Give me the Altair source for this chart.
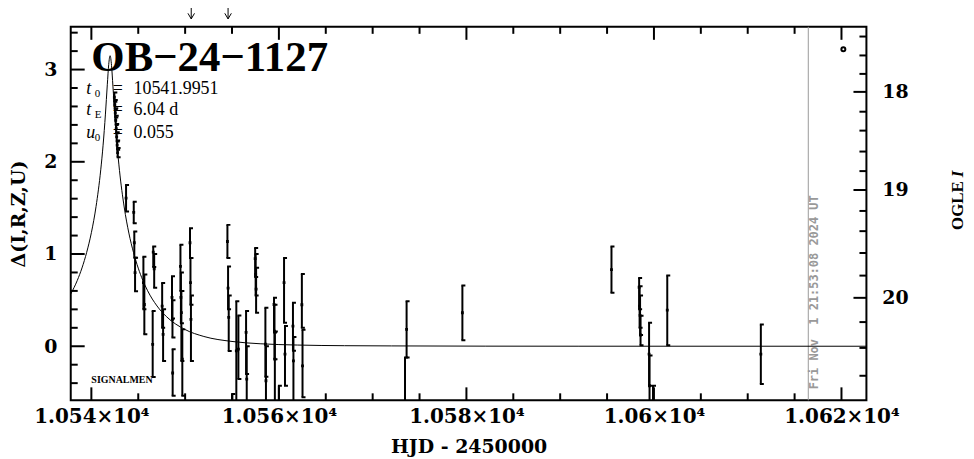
import altair as alt
import pandas as pd

# ---------------- data ----------------
event_name = "OB\u221224\u22121127"
param_syms = ["t", "t", "u"]
param_subs = ["0", "E", "0"]
param_vals = ["10541.9951", "6.04 d", "0.055"]
stamp_text = "Fri Nov \u00a01 21:53:08 2024 UT"
credit_text = "SIGNALMEN"

# observations (HJD-2450000, value, lower, upper)
obs_t = [10542.45, 10542.50, 10542.55, 10542.60, 10542.65, 10542.70, 10542.75, 10542.80,
         10543.70, 10544.52, 10544.58, 10544.66, 10545.55, 10545.65, 10546.60, 10546.70,
         10546.54, 10547.55, 10547.65, 10548.60, 10548.65, 10548.67, 10549.50, 10549.55,
         10549.60, 10549.70, 10550.52, 10550.57, 10550.62, 10554.51, 10554.58, 10554.65,
         10555.04, 10555.46, 10555.68, 10556.50, 10556.57, 10557.47, 10557.52, 10557.57,
         10558.56, 10558.62, 10559.48, 10559.53, 10559.57, 10560.00, 10560.55, 10560.65,
         10561.50, 10561.55, 10562.45, 10562.52, 10573.45, 10573.62, 10579.57, 10595.47,
         10598.42, 10598.47, 10598.52, 10598.57, 10599.48, 10599.53, 10599.90, 10601.42,
         10611.40]
obs_val = [2.70, 2.62, 2.53, 2.45, 2.36, 2.27, 2.18, 2.10,
           1.607, 1.451, 1.122, 0.798, 0.690, 0.453, 1.020, 0.840,
           0.020, 0.435, 0.129, 0.529, 0.291, -0.290, 0.866, 0.529,
           0.364, -0.140, 1.122, 0.690, 0.291, 1.136, 0.630, 0.313,
           -0.900, -0.050, -0.032, 0.151, -0.356, 0.950, 0.780, 0.620,
           0.022, -0.374, 0.453, 0.165, -0.140, -0.900, 0.690, -0.086,
           0.219, -0.159, 0.450, -0.213, -0.620, 0.183, 0.363, 0.830,
           0.640, 0.435, 0.334, 0.122, -0.086, -0.428, -0.900, 0.392,
           -0.086]
obs_lo = [2.65, 2.57, 2.48, 2.40, 2.31, 2.22, 2.13, 2.05,
          1.460, 1.334, 0.960, 0.597, 0.400, 0.129, 0.860, 0.633,
          -0.334, 0.200, -0.159, 0.300, 0.094, -0.536, 0.600, 0.250,
          -0.159, -0.536, 0.957, 0.450, -0.159, 0.957, 0.400, -0.051,
          -1.300, -0.650, -0.356, -0.300, -0.700, 0.750, 0.550, 0.364,
          -0.330, -0.650, 0.150, -0.140, -0.620, -1.300, 0.256, -0.428,
          -0.050, -0.620, 0.200, -0.553, -1.100, -0.122, 0.065, 0.579,
          0.400, 0.200, 0.122, 0.011, -0.428, -0.750, -1.300, 0.011,
          -0.410]
obs_hi = [2.75, 2.67, 2.58, 2.50, 2.41, 2.32, 2.23, 2.15,
          1.748, 1.567, 1.244, 0.960, 0.971, 0.777, 1.082, 1.000,
          0.381, 0.687, 0.400, 0.758, 0.500, -0.032, 1.100, 0.800,
          0.600, 0.183, 1.280, 0.957, 0.550, 1.316, 0.866, 0.550,
          -0.518, 0.489, 0.334, 0.381, 0.000, 1.065, 1.000, 0.850,
          0.417, 0.000, 0.525, 0.450, 0.160, -0.428, 0.957, 0.219,
          0.471, 0.100, 0.784, 0.180, -0.122, 0.489, 0.658, 1.082,
          0.741, 0.650, 0.550, 0.330, 0.256, -0.100, -0.428, 0.766,
          0.237]

# model curve
curve_t = [10537.80, 10538.5, 10539.0, 10539.5, 10540.0, 10540.5, 10541.0, 10541.25,
           10541.5, 10541.7, 10541.85, 10542.0, 10542.15, 10542.3, 10542.5, 10542.75,
           10543.0, 10543.5, 10544.0, 10544.5, 10545.0, 10545.5, 10546.0, 10547.0,
           10548.0, 10550.0, 10552.0, 10555.0, 10558.0, 10562.0, 10567.0, 10572.0,
           10582.0, 10592.0, 10622.66]
curve_d = [0.566, 0.714, 0.849, 1.018, 1.231, 1.515, 1.913, 2.18,
           2.517, 2.835, 3.055, 3.150, 3.045, 2.82, 2.505, 2.17,
           1.905, 1.51, 1.227, 1.015, 0.847, 0.712, 0.602, 0.437,
           0.322, 0.181, 0.106, 0.052, 0.027, 0.013, 0.006, 0.0036,
           0.0011, 0.0005, 0.0001]

latest_t = [10620.2]
latest_v = [3.22]
arrow_t = [10550.65, 10554.58]
stamp_t = [10616.46]

# axes ticks
x_major = [10540, 10560, 10580, 10600, 10620]
x_minor = [10545, 10550, 10555, 10565, 10570, 10575, 10585, 10590, 10595, 10605, 10610, 10615]
y_major = [0, 1, 2, 3]
y_minor = [-0.4, -0.2, 0.2, 0.4, 0.6, 0.8, 1.2, 1.4, 1.6, 1.8, 2.2, 2.4, 2.6, 2.8, 3.2, 3.4]
mag_major_labels = ["18", "19", "20"]
mag_major_pos = [2.758, 1.694, 0.525]
mag_minor_pos = [3.358, 3.153, 2.953, 2.543, 2.338, 2.111, 1.899, 1.467, 1.248,
                 1.011, 0.766, 0.262, -0.018, -0.320]

# ---------------- chart ----------------
W, H = 799, 375
xs = alt.Scale(domain=[10537.80, 10622.66], nice=False, zero=False)
ys = alt.Scale(domain=[-0.586, 3.463], nice=False, zero=False)
SERIF = "DejaVu Serif"
LSERIF = "Liberation Serif"

x_axis = alt.Axis(values=x_major, ticks=False, tickSize=0, domain=False, grid=False,
                  labelExpr="format(datum.value / 10000, '.4~f') + '\u00d710\u2074'",
                  labelFlush=False, labelOverlap=False, labelFont=SERIF, labelFontSize=20,
                  labelFontWeight="bold", labelColor="black", labelPadding=6,
                  title="HJD - 2450000", titleFont=SERIF, titleFontSize=19,
                  titleFontWeight="bold", titleColor="black", titlePadding=11)
y_axis = alt.Axis(values=y_major, format="d", ticks=False, tickSize=0, domain=False, grid=False,
                  labelFont=SERIF, labelFontSize=19, labelFontWeight="bold", labelColor="black",
                  labelPadding=14, title="\u0394(I,R,Z,U)", titleFont=SERIF, titleFontSize=19,
                  titleFontWeight="bold", titleColor="black", titlePadding=15)


def X(f):
    return alt.X(f, type="quantitative", scale=xs, axis=x_axis)


def Y(f):
    return alt.Y(f, type="quantitative", scale=ys, axis=y_axis)


obs = pd.DataFrame({"t": obs_t, "v": obs_val, "lo": obs_lo, "hi": obs_hi})
curve = pd.DataFrame({"t": curve_t, "d": curve_d})

layers = []
layers.append(alt.Chart(pd.DataFrame({"t": stamp_t})).mark_rule(color="#999999", strokeWidth=1)
              .encode(x=X("t")))
layers.append(alt.Chart(pd.DataFrame({"t": stamp_t, "s": [stamp_text]}))
              .mark_text(angle=270, align="left", baseline="middle", font="DejaVu Sans Mono",
                         fontSize=12, fontWeight="bold", color="#999999", xOffset=6)
              .encode(x=X("t"), y=alt.value(364), text="s:N"))
layers.append(alt.Chart(curve).mark_line(color="black", strokeWidth=1, interpolate="monotone", clip=True)
              .encode(x=X("t"), y=Y("d")))
layers.append(alt.Chart(obs).mark_rule(color="black", strokeWidth=2, clip=True)
              .encode(x=X("t"), y=Y("lo"), y2=alt.Y2("hi")))
for f in ["lo", "hi"]:
    layers.append(alt.Chart(obs).mark_tick(orient="horizontal", size=4, thickness=2, color="black",
                                           opacity=1, clip=True, xOffset=1)
                  .encode(x=X("t"), y=Y(f)))
layers.append(alt.Chart(obs).mark_square(size=8, color="black", opacity=1, clip=True)
              .encode(x=X("t"), y=Y("v")))
layers.append(alt.Chart(pd.DataFrame({"t": latest_t, "v": latest_v}))
              .mark_point(shape="circle", size=16, filled=False, color="black", strokeWidth=2, opacity=1)
              .encode(x=X("t"), y=Y("v")))

# arrows above the frame
arrows = pd.DataFrame({"t": arrow_t})
layers.append(alt.Chart(arrows).mark_rule(color="black", strokeWidth=1)
              .encode(x=X("t"), y=alt.value(-20), y2=alt.value(-8)))
layers.append(alt.Chart(arrows).mark_point(shape="M-0.59,-1L0,0L0.59,-1", size=125, filled=False,
                                           color="black", strokeWidth=1, opacity=1)
              .encode(x=X("t"), y=alt.value(-8)))

# inward ticks
for vals, ln in [(x_major, 13), (x_minor, 7)]:
    d = pd.DataFrame({"t": vals})
    layers.append(alt.Chart(d).mark_rule(color="black", strokeWidth=2)
                  .encode(x=X("t"), y=alt.value(H), y2=alt.value(H - ln)))
    layers.append(alt.Chart(d).mark_rule(color="black", strokeWidth=2)
                  .encode(x=X("t"), y=alt.value(0), y2=alt.value(ln)))
for vals, ln in [(y_major, 14), (y_minor, 7)]:
    d = pd.DataFrame({"v": vals})
    layers.append(alt.Chart(d).mark_rule(color="black", strokeWidth=2)
                  .encode(y=Y("v"), x=alt.value(0), x2=alt.value(ln)))
for vals, ln in [(mag_major_pos, 13), (mag_minor_pos, 7)]:
    d = pd.DataFrame({"v": vals})
    layers.append(alt.Chart(d).mark_rule(color="black", strokeWidth=2)
                  .encode(y=Y("v"), x=alt.value(W), x2=alt.value(W - ln)))

# right axis labels and title
layers.append(alt.Chart(pd.DataFrame({"v": mag_major_pos, "lab": mag_major_labels}))
              .mark_text(align="left", baseline="middle", font=SERIF, fontSize=19,
                         fontWeight="bold", color="black")
              .encode(y=Y("v"), x=alt.value(W + 16), text="lab:N"))
layers.append(alt.Chart(pd.DataFrame({"s": ["OGLE"]}))
              .mark_text(angle=270, align="left", baseline="middle", font=LSERIF, fontSize=17,
                         fontWeight="bold", color="black")
              .encode(x=alt.value(891), y=alt.value(204), text="s:N"))
layers.append(alt.Chart(pd.DataFrame({"s": ["I"]}))
              .mark_text(angle=270, align="left", baseline="middle", font=LSERIF, fontSize=17,
                         fontWeight="bold", fontStyle="italic", color="black")
              .encode(x=alt.value(891), y=alt.value(151), text="s:N"))

# annotations
layers.append(alt.Chart(pd.DataFrame({"s": [event_name]}))
              .mark_text(align="left", baseline="alphabetic", font=LSERIF, fontSize=43,
                         fontWeight="bold", color="black")
              .encode(x=alt.value(20.7), y=alt.value(44), text="s:N"))
line_y = [62, 84, 107]
for i in range(3):
    yy = line_y[i]
    layers.append(alt.Chart(pd.DataFrame({"s": [param_syms[i]]}))
                  .mark_text(align="left", baseline="middle", font=LSERIF, fontSize=18,
                             fontStyle="italic", color="black")
                  .encode(x=alt.value(15.7), y=alt.value(yy), text="s:N"))
    layers.append(alt.Chart(pd.DataFrame({"s": [param_subs[i]]}))
                  .mark_text(align="left", baseline="middle", font=LSERIF, fontSize=11,
                             color="black")
                  .encode(x=alt.value(24), y=alt.value(yy + 5), text="s:N"))
    layers.append(alt.Chart(pd.DataFrame({"s": ["="]}))
                  .mark_text(align="left", baseline="middle", font=LSERIF, fontSize=18,
                             color="black")
                  .encode(x=alt.value(42.3), y=alt.value(yy), text="s:N"))
    layers.append(alt.Chart(pd.DataFrame({"s": [param_vals[i]]}))
                  .mark_text(align="left", baseline="middle", font=LSERIF, fontSize=18,
                             color="black")
                  .encode(x=alt.value(63), y=alt.value(yy), text="s:N"))
layers.append(alt.Chart(pd.DataFrame({"s": [credit_text]}))
              .mark_text(align="left", baseline="middle", font=LSERIF, fontSize=10,
                         fontWeight="bold", color="black")
              .encode(x=alt.value(20.7), y=alt.value(355), text="s:N"))

chart = (alt.layer(*layers)
         .properties(width=W, height=H,
                     padding={"left": 63, "top": 18, "right": 100, "bottom": 56},
                     autosize=alt.AutoSizeParams(type="none"), background="white")
         .configure_view(stroke="black", strokeWidth=2))

chart.save("out.html", embed_options={"renderer": "svg", "actions": False})
